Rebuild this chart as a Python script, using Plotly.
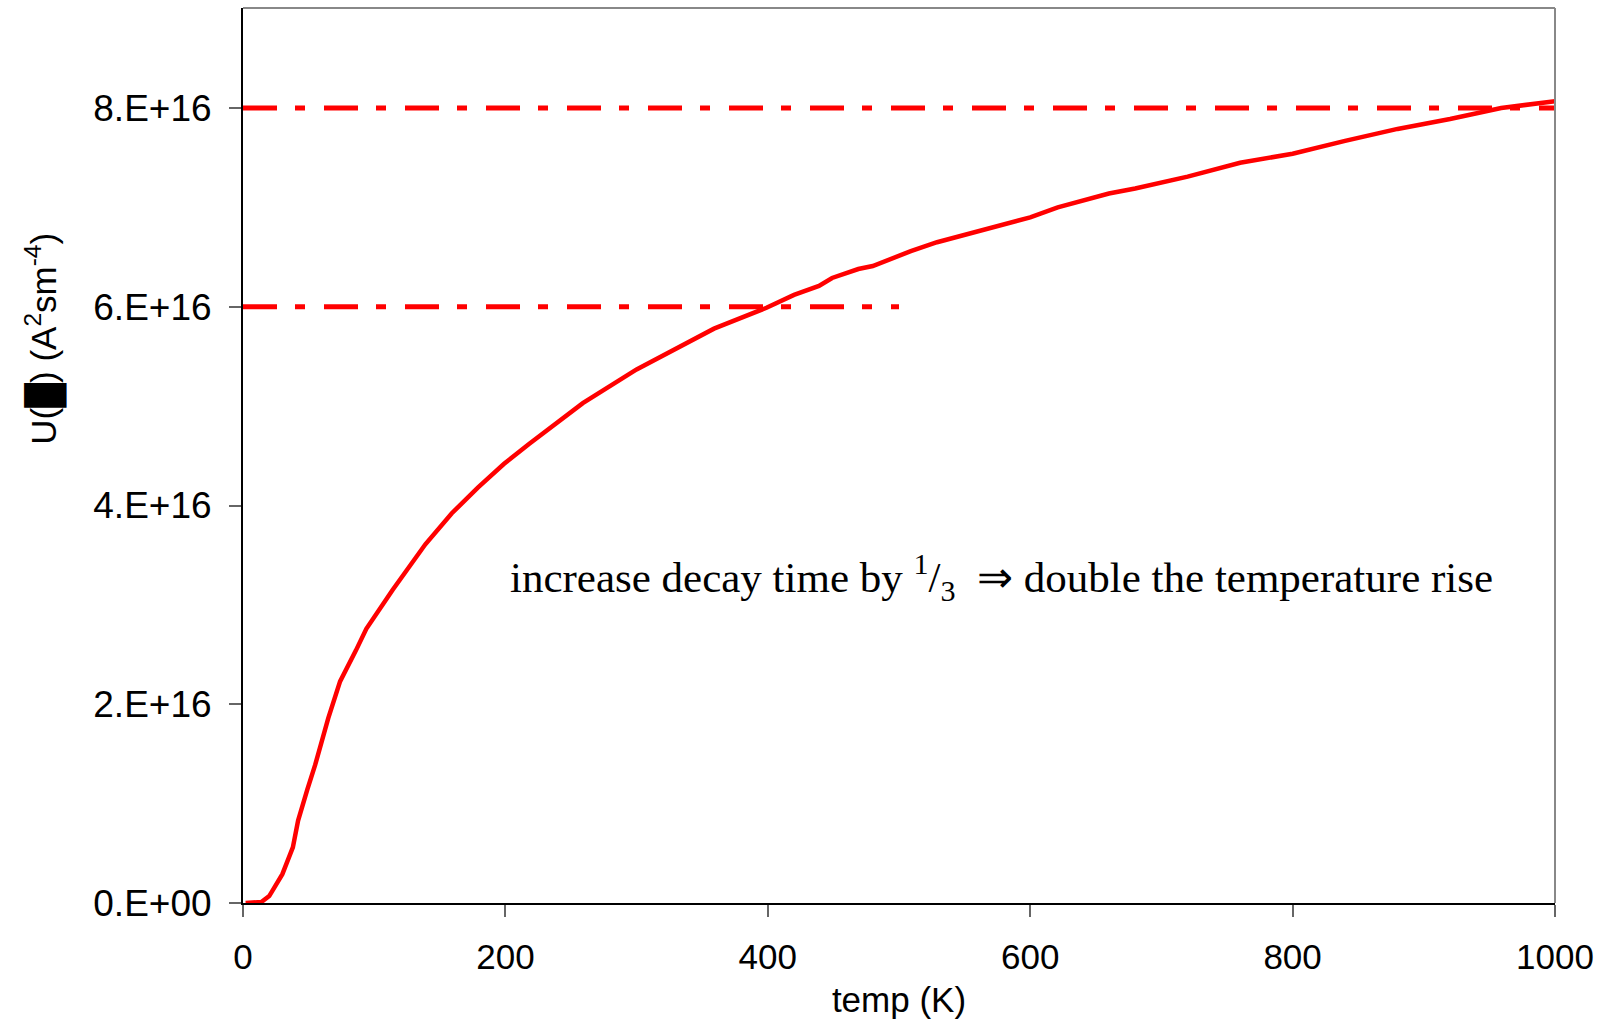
import plotly.graph_objects as go

# Temperature (K) and U(θ) values for the heating curve
temp_k = [2, 14, 20, 30, 38, 42, 49, 55, 65, 74, 86, 94, 114, 139, 159, 179, 199, 218,
          259, 300, 359, 399, 420, 439, 449, 469, 480, 509, 529, 560, 600, 621, 660,
          680, 720, 760, 800, 840, 880, 920, 959, 1000]
u_vals = [0.0, 0.01, 0.07, 0.29, 0.56, 0.83, 1.14, 1.39, 1.86, 2.23, 2.54, 2.76, 3.15,
          3.61, 3.92, 4.18, 4.42, 4.62, 5.03, 5.37, 5.78, 5.99, 6.12, 6.21, 6.29, 6.38,
          6.41, 6.56, 6.65, 6.76, 6.90, 7.00, 7.14, 7.19, 7.31, 7.45, 7.54, 7.67, 7.79,
          7.89, 8.00, 8.07]
u_vals = [v * 1e16 for v in u_vals]

# Reference levels (dash-dot) and how far along the temperature axis they run
ref_levels = [6e16, 8e16]
ref_ends = [500, 1000]

x_ticks = [0, 200, 400, 600, 800, 1000]
y_ticks = [0, 2e16, 4e16, 6e16, 8e16]
y_tick_text = ["0.E+00", "2.E+16", "4.E+16", "6.E+16", "8.E+16"]

RED = "#FF0000"
DASHDOT = "34px,18px,10px,19px"

fig = go.Figure()

for level, end in zip(ref_levels, ref_ends):
    fig.add_trace(go.Scatter(
        x=[0, end], y=[level, level], mode="lines",
        line=dict(color=RED, width=5, dash=DASHDOT),
        hoverinfo="skip", showlegend=False,
    ))

fig.add_trace(go.Scatter(
    x=temp_k, y=u_vals, mode="lines",
    line=dict(color=RED, width=4.5),
    showlegend=False,
))

axis_font = dict(family="Liberation Sans, Arial, sans-serif", size=35, color="black")
ytick_font = dict(family="Liberation Sans, Arial, sans-serif", size=37, color="black")

fig.update_layout(
    width=1610, height=1025,
    margin=dict(l=243, r=55, t=8, b=122),
    paper_bgcolor="white", plot_bgcolor="white",
    font=axis_font,
    xaxis=dict(
        range=[0, 1000], tickvals=x_ticks, ticks="outside", ticklen=12,
        tickwidth=1.5, tickcolor="#666666", showgrid=False, zeroline=False,
        showline=True, linecolor="black", linewidth=2,
        tickfont=axis_font, ticklabelstandoff=10,
        title=dict(text="temp (K)", font=axis_font, standoff=12),
    ),
    yaxis=dict(
        range=[0, 9.007e16], tickvals=y_ticks, ticktext=y_tick_text,
        ticks="outside", ticklen=12, tickwidth=1.5, tickcolor="#666666",
        showgrid=False, zeroline=False, showline=True, linecolor="black",
        linewidth=2, tickfont=ytick_font, ticklabelstandoff=10,
    ),
)

# Grey frame on the top and right sides of the plot area
fig.add_shape(type="line", xref="paper", yref="paper", x0=0, x1=1, y0=1, y1=1,
              line=dict(color="#888888", width=2))
fig.add_shape(type="line", xref="paper", yref="paper", x0=1, x1=1, y0=0, y1=1,
              line=dict(color="#888888", width=2))

# Vertical y-axis title
fig.add_annotation(
    text="U(█) (A<sup>2</sup>sm<sup>-4</sup>)",
    xref="paper", yref="paper", x=-0.152, y=0.630,
    textangle=-90, showarrow=False, xanchor="center", yanchor="middle",
    font=axis_font,
)

# Note inside the plot
fig.add_annotation(
    text="increase decay time by <sup>1</sup>/<sub>3</sub>  ⇒ double the temperature rise",
    x=578, y=3.28e16, xanchor="center", yanchor="middle", showarrow=False,
    font=dict(family="Liberation Serif, Times New Roman, serif", size=43, color="black"),
)

fig.write_html("out.html")
